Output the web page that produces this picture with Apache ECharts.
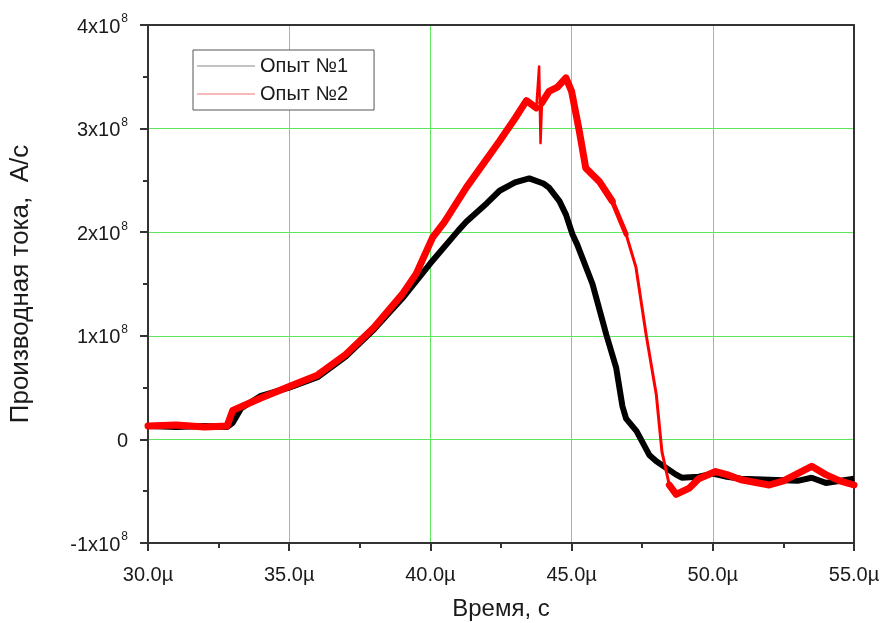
<!DOCTYPE html>
<html><head><meta charset="utf-8">
<script src="https://cdn.jsdelivr.net/npm/echarts@6/dist/echarts.min.js"></script>
<style>html,body{margin:0;padding:0;background:#fff}#c{width:880px;height:623px}</style>
</head><body><div id="c"></div>
<script>
// time in microseconds, values in units of 1e8 A/s
const t1 = [30,31,32,32.8,33.0,33.3,34,35,36,37,38,39,40,41,41.27,42,42.45,43,43.5,44,44.2,44.57,44.8,45.03,45.2,45.74,46.23,46.58,46.8,46.93,47.3,47.75,48.0,48.7,48.9,49.5,50,50.5,51,52,53,53.5,54,55];
const v1 = [0.13,0.12,0.13,0.12,0.16,0.3,0.42,0.50,0.60,0.80,1.06,1.36,1.70,2.02,2.1,2.28,2.4,2.48,2.52,2.47,2.43,2.3,2.17,1.98,1.88,1.5,1.01,0.69,0.32,0.2,0.08,-0.15,-0.21,-0.34,-0.37,-0.36,-0.33,-0.36,-0.38,-0.39,-0.40,-0.37,-0.42,-0.38];
const t2 = [30,31,32,32.8,33.0,34,35,36,37,38,39,39.5,40.08,40.5,41.27,42.45,43.0,43.4,43.75,43.85,43.9,43.95,44.2,44.5,44.8,45.0,45.27,45.5,45.98,46.44,46.93,47.28,47.64,48.0,48.2,48.46,48.7,49.17,49.5,50.1,50.5,51,52,52.5,53,53.5,54,54.5,55];
const v2 = [0.13,0.14,0.12,0.13,0.28,0.4,0.51,0.62,0.82,1.08,1.4,1.6,1.95,2.1,2.43,2.88,3.1,3.27,3.2,3.6,2.86,3.25,3.36,3.4,3.49,3.36,2.98,2.62,2.49,2.3,1.98,1.66,1.01,0.43,-0.12,-0.44,-0.53,-0.47,-0.38,-0.31,-0.34,-0.39,-0.44,-0.40,-0.33,-0.26,-0.34,-0.40,-0.44];
const seriesNames = ['Опыт №1','Опыт №2'];
const xTitle = 'Время, с';
const yTitle = 'Производная тока,  А/с';

const zip = (a,b) => a.map((x,i)=>[x,b[i]]);
const red = zip(t2,v2);
// segments of the red record: noisy (thick) and clean (thin) parts
const redSegs = [[0,19,7],[18,22,2.5],[21,30,7],[29,31,5],[30,36,3],[35,red.length,7]];
const chart = echarts.init(document.getElementById('c'));
const axisCol = '#333';
const FF = 'Liberation Sans, Arial, sans-serif';
const txt = '#1a1a1a';
const frameAxis = {show:true,onZero:false,lineStyle:{color:axisCol,width:2}};
chart.setOption({
  animation:false,
  grid:{left:148,right:26,top:25,bottom:80,containLabel:false,outerBoundsMode:'none'},
  legend:{
    left:193, top:50, orient:'vertical', itemGap:8, padding:[6,26,6,4],
    backgroundColor:'#fff', borderColor:'#555', borderWidth:1,
    itemWidth:58, itemHeight:1, icon:'rect',
    textStyle:{fontSize:20,color:txt,fontFamily:FF},
    data:[{name:seriesNames[0],itemStyle:{color:'#888'}},{name:seriesNames[1],itemStyle:{color:'#e77'}}]
  },
  xAxis:[{type:'value',min:30,max:55,interval:5,
    name:xTitle,nameLocation:'middle',nameGap:54,
    nameTextStyle:{fontSize:24,color:txt,fontFamily:FF},
    axisLine:{show:true,onZero:false,lineStyle:{color:axisCol,width:2}},
    axisTick:{show:true,inside:false,length:8,lineStyle:{color:axisCol,width:2}},
    minorTick:{show:true,splitNumber:2,length:5,lineStyle:{color:axisCol,width:2}},
    splitLine:{show:true,lineStyle:{color:'#5fe65f',width:1}},
    axisLabel:{fontSize:20,color:txt,margin:22,fontFamily:FF,
      formatter:v=>v.toFixed(1)+'µ'}
  },{type:'value',min:30,max:55,position:'top',axisLine:frameAxis,
    axisTick:{show:false},axisLabel:{show:false},splitLine:{show:false}}],
  yAxis:[{type:'value',min:-1,max:4,interval:1,
    name:yTitle,nameLocation:'middle',nameGap:114,nameRotate:90,
    nameTextStyle:{fontSize:26,color:txt,fontFamily:FF},
    axisLine:{show:true,onZero:false,lineStyle:{color:axisCol,width:2}},
    axisTick:{show:true,inside:false,length:8,lineStyle:{color:axisCol,width:2}},
    minorTick:{show:true,splitNumber:2,length:5,lineStyle:{color:axisCol,width:2}},
    splitLine:{show:true,lineStyle:{color:'#5fe65f',width:1}},
    axisLabel:{color:txt,margin:20,
      formatter:v=> v===0 ? '{b|0}' : '{b|'+v+'x10}{s|8}',
      rich:{b:{fontSize:20,color:txt,fontFamily:FF,lineHeight:24,verticalAlign:'bottom'},
            s:{fontSize:12,color:txt,fontFamily:FF,lineHeight:24,verticalAlign:'top',padding:[0,0,12,1]}}}
  },{type:'value',min:-1,max:4,position:'right',axisLine:frameAxis,
    axisTick:{show:false},axisLabel:{show:false},splitLine:{show:false}}],
  series:[
    {name:seriesNames[0],type:'line',data:zip(t1,v1),showSymbol:false,symbol:'none',
      lineStyle:{color:'#000',width:6},itemStyle:{color:'#000'},z:2}
  ].concat(redSegs.map(([a,b,w])=>({
      name:seriesNames[1],type:'line',data:red.slice(a,b),showSymbol:false,symbol:'none',
      lineStyle:{color:'#f00',width:w,join:'round',cap:'round'},itemStyle:{color:'#f00'},z:3})))
});
</script></body></html>
